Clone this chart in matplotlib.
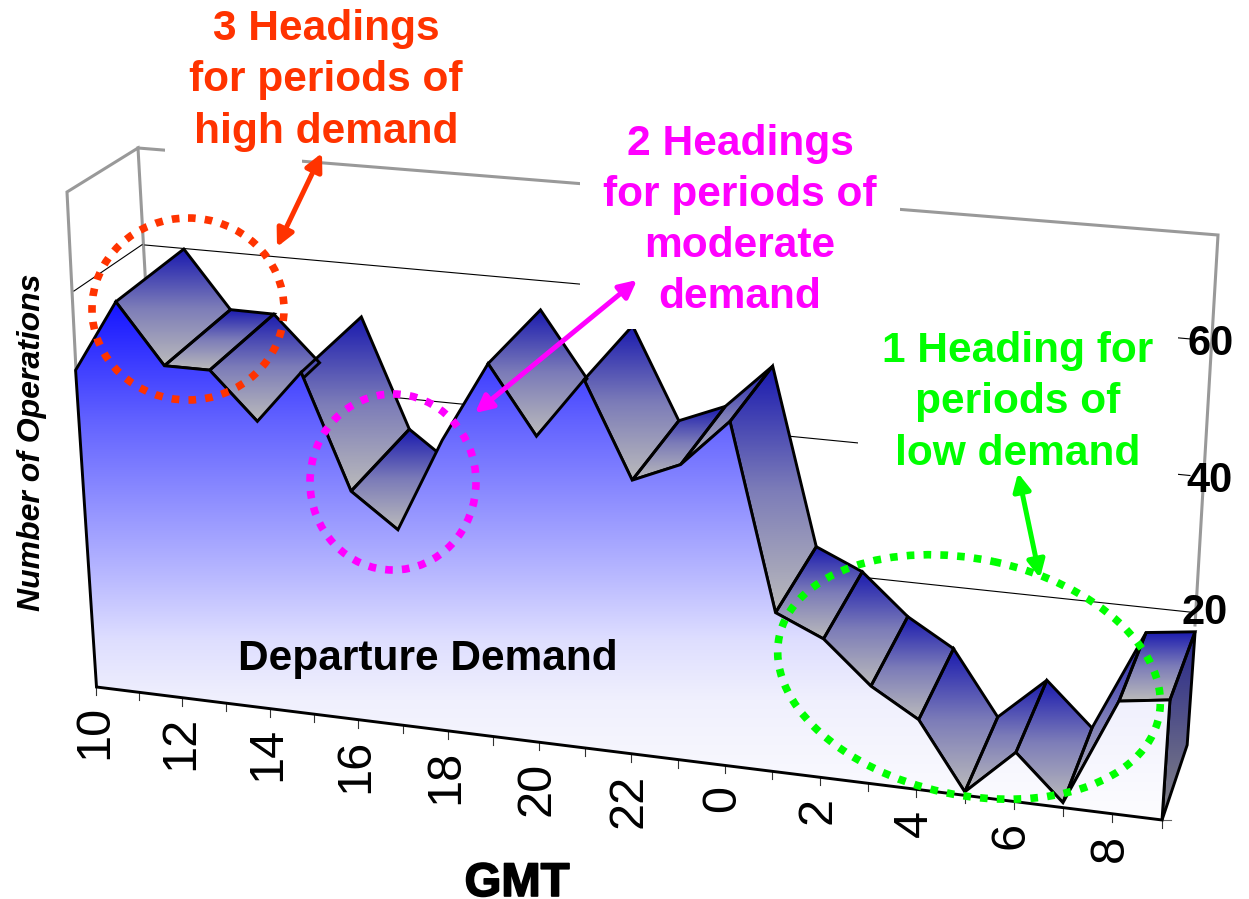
import numpy as np
import matplotlib
matplotlib.use("Agg")
import matplotlib.pyplot as plt
import matplotlib.patheffects as pe
from matplotlib.colors import LinearSegmentedColormap
from matplotlib.patches import Ellipse, FancyArrowPatch, Polygon, Rectangle

plt.rcParams['font.family'] = ['Liberation Sans', 'DejaVu Sans']

hours = [10, 11, 12, 13, 14, 15, 16, 17, 18, 19, 20, 21, 22, 23, 0, 1, 2, 3, 4, 5, 6, 7, 8, 9]
demand = [48, 59, 50, 50, 43, 51, 34, 29, 43, 55, 45, 54, 40, 43, 50, 23, 20, 14, 10, 0.5, 7, 0.7, 16, 17]
value_ticks = [20, 40, 60]

RED = '#FF3300'
MAGENTA = '#FF00FF'
GREEN = '#00FF00'
WALL = '#999999'


# the 3d look of the chart is an oblique projection onto figure pixels
def base_x(i):
    return 96.5 + 42.67 * i + 0.159 * i * i


def base_y(i):
    return 687 + (base_x(i) - 96.5) * 0.1248


def front(i, v):
    h = v * (6.6 + 0.02 * i)
    slant = -0.066 + 0.132 * i / 23
    return base_x(i) + slant * h, base_y(i) - h


def back(i, v):
    h = v * (6.6 + 0.02 * i)
    x, y = front(i, v)
    return x + 70 - 1.95 * i, y - (75 - 0.057 * h)


def wall_y(x, v):
    left = 629 - 6.4 * v
    right = 749 - 6.83 * v
    return left + (right - left) * (x - 145) / (1193 - 145)


def gradient_fill(ax, pts, cmap, y0=None, y1=None, zorder=2):
    pts = np.array(pts)
    if y0 is None:
        y0, y1 = pts[:, 1].min(), pts[:, 1].max()
    img = ax.imshow(np.linspace(0, 1, 256).reshape(-1, 1), cmap=cmap, aspect='auto',
                    extent=(pts[:, 0].min(), pts[:, 0].max(), y1, y0), origin='upper',
                    interpolation='bilinear', zorder=zorder)
    clip = Polygon(pts, closed=True, transform=ax.transData)
    img.set_clip_path(clip)


surface_cmap = LinearSegmentedColormap.from_list('surface', ['#1919AF', '#7C7CB8', '#BBBBBB'])
cap_cmap = LinearSegmentedColormap.from_list('cap', ['#26268C', '#858585'])
ramp_y = np.array([300, 423, 580, 640, 700, 820])
ramp_col = ['#1414FF', '#6464FF', '#BBBBFF', '#DEDEFF', '#F0F0FD', '#FDFDFF']
face_cmap = LinearSegmentedColormap.from_list('face', list(zip((ramp_y - 300) / 520, ramp_col)))

fig = plt.figure(figsize=(12.49, 8.99), dpi=100)
ax = fig.add_axes([0, 0, 1, 1])

n = len(demand)
line_w = 2.1

# walls
wall_lines = [
    [(76, 370), (67, 192), (138, 148), (146, 290)],
    [(138, 148), (1218, 235), (1195, 625)],
]
for seg in wall_lines:
    xs, ys = zip(*seg)
    ax.plot(xs, ys, color=WALL, lw=2.2, solid_joinstyle='miter', zorder=1)

# gridlines on the back wall
for v in value_ticks:
    ax.plot([145, 1190], [wall_y(145, v), wall_y(1190, v)], color='black', lw=0.8, zorder=1)
side_v = value_ticks[-1]
ax.plot([74, 142], [687 - 6.6 * side_v, wall_y(142, side_v)], color='black', lw=0.8, zorder=1)

# top surface bands, only those facing the viewer
for i in range(n - 1):
    f0, f1 = front(i, demand[i]), front(i + 1, demand[i + 1])
    b0, b1 = back(i, demand[i]), back(i + 1, demand[i + 1])
    dx, dy = f1[0] - f0[0], f1[1] - f0[1]
    ox, oy = b0[0] - f0[0], b0[1] - f0[1]
    if dx * oy - dy * ox >= -200:
        continue
    pts = [f0, f1, b1, b0]
    gradient_fill(ax, pts, surface_cmap, zorder=2)
    ax.add_patch(Polygon(pts, closed=True, fill=False, ec='black', lw=line_w,
                         joinstyle='miter', zorder=2.1))

# right end cap
last = n - 1
cap = [(base_x(last), base_y(last)), front(last, demand[last]), back(last, demand[last]), back(last, 0)]
gradient_fill(ax, cap, cap_cmap, zorder=2)
ax.add_patch(Polygon(cap, closed=True, fill=False, ec='black', lw=line_w, joinstyle='miter', zorder=2.1))

# front face
tops = [front(i, demand[i]) for i in range(n)]
outline = [(base_x(0), base_y(0))] + tops + [(base_x(last), base_y(last))]
gradient_fill(ax, outline, face_cmap, 300, 820, zorder=3)
ax.add_patch(Polygon(outline, closed=True, fill=False, ec='black', lw=line_w, joinstyle='miter', zorder=3.1))

# x ticks
for i in range(n):
    ax.plot([base_x(i)] * 2, [base_y(i), base_y(i) + 8], color='#333333', lw=0.8, zorder=3)
ax.plot([base_x(last), base_x(last) + 9], [base_y(last)] * 2, color='#666666', lw=0.8, zorder=3)
for i, hour in enumerate(hours):
    if i % 2 == 0:
        ax.text(base_x(i) - 2, base_y(i) + 18 + 3 * i / 23, str(hour), rotation=90, ha='center', va='top',
                fontsize=35, color='black', zorder=6)

# white boxes behind the callouts cut the walls and the peak
for x0, y0, x1, y1 in [(165, 0, 302, 175), (580, 120, 900, 329), (858, 265, 1178, 480)]:
    ax.add_patch(Rectangle((x0, y0), x1 - x0, y1 - y0, fc='white', ec='none', zorder=4))

# y labels
for v, x, dy in zip(value_ticks, [1182, 1186, 1188], [1, 5, 5]):
    ax.text(x, wall_y(1190, v) + dy, str(v), fontsize=30, fontweight='bold', ha='left', va='center', zorder=6)

# demand regions
dots = (0, (1, 1.2))
ax.add_patch(Ellipse((188, 309), 192, 182, fill=False, ec=RED, lw=5.5, linestyle=dots, zorder=5))
ax.add_patch(Ellipse((393, 482), 166, 176, fill=False, ec=MAGENTA, lw=5.5, linestyle=dots, zorder=5))
ax.add_patch(Ellipse((969, 677), 388, 236, angle=12, fill=False, ec=GREEN, lw=5.5, linestyle=dots, zorder=5))

# arrows
for tail, head, col in [((322, 153), (277, 247), RED),
                        ((637, 280), (475, 413), MAGENTA),
                        ((1018, 473), (1040, 578), GREEN)]:
    ax.add_patch(FancyArrowPatch(tail, head, arrowstyle='<|-|>', mutation_scale=26,
                                 color=col, lw=3.6, shrinkA=0, shrinkB=0, zorder=5))

callouts = [
    (326, RED, [('3 Headings', 40), ('for periods of', 91), ('high demand', 143)]),
    (740, MAGENTA, [('2 Headings', 155), ('for periods of', 206), ('moderate', 257), ('demand', 308)]),
    (1018, GREEN, [('1 Heading for', 362), ('periods of', 413), ('low demand', 465)]),
]
for x, col, rows in callouts:
    for label, y in rows:
        ax.text(x, y, label, color=col, fontsize=30.6, fontweight='bold', ha='center', va='baseline', zorder=6)

ax.text(428, 670, 'Departure Demand', fontsize=30.5, fontweight='bold', ha='center', va='baseline', zorder=6)
ax.text(517, 896, 'GMT', fontsize=34, fontweight='bold', ha='center', va='baseline', zorder=6,
        path_effects=[pe.withStroke(linewidth=1.2, foreground='black')])
ax.text(40, 442, 'Number of Operations', fontsize=23, fontweight='bold', fontstyle='italic',
        rotation=90, ha='center', va='baseline', rotation_mode='anchor', zorder=6)

ax.set_xlim(0, 1249)
ax.set_ylim(899, 0)
ax.axis('off')
fig.savefig('out.png', dpi=100)
